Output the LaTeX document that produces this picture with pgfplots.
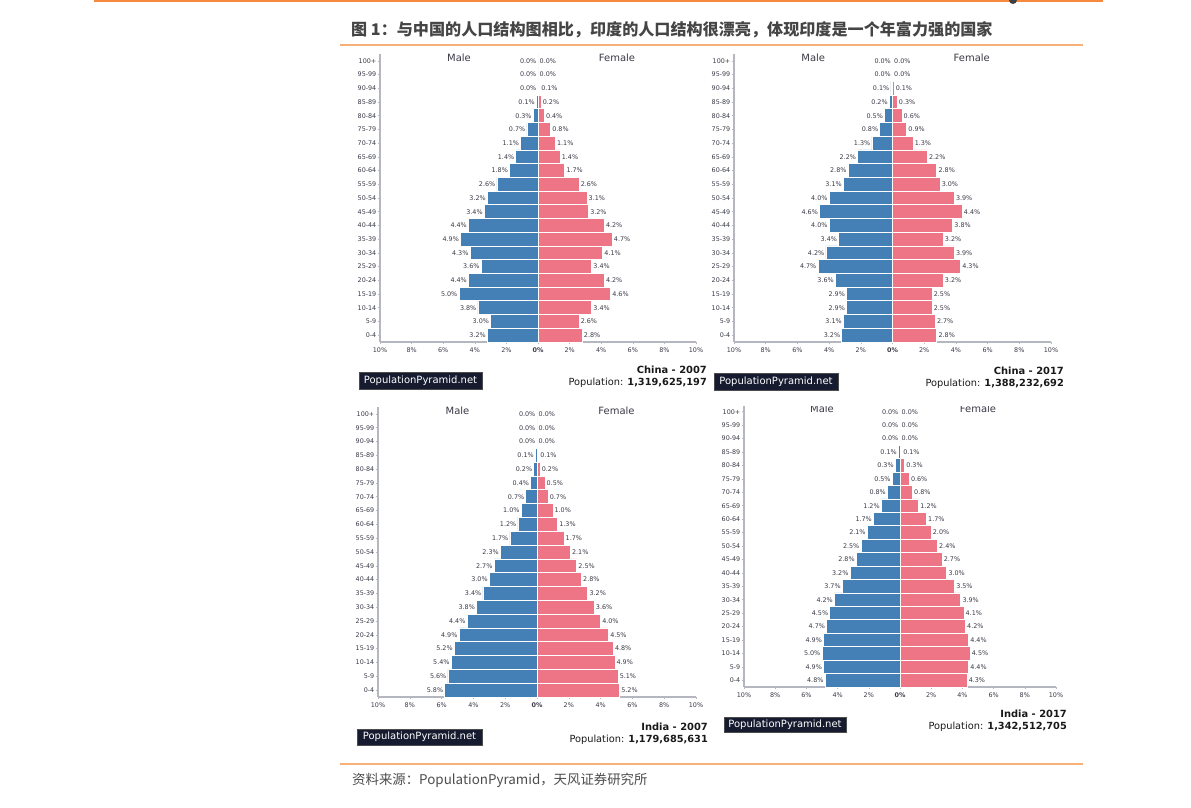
\documentclass[border=0pt]{standalone}
\usepackage{pgfplots}
\pgfplotsset{compat=1.18}
\usepackage{pgfplotstable}
\usepackage{fontspec}
\setmainfont{DejaVu Sans}
\newfontfamily\cjk{Noto Sans CJK SC}
\definecolor{malec}{HTML}{4480B6}
\definecolor{femc}{HTML}{EE7585}
\definecolor{axgray}{HTML}{B4B6C0}
\definecolor{txt}{HTML}{3A3A48}
\definecolor{navy}{HTML}{161B30}
\definecolor{orangeA}{HTML}{F58A3C}
\definecolor{orangeB}{HTML}{F7B07A}
\definecolor{ttl}{HTML}{454545}

% y: 0 = 0-4 ... 20 = 100+ ; m = male %, f = female %
\pgfplotstableread{
y m f
20 0.0 0.0
19 0.0 0.0
18 0.0 0.1
17 0.1 0.2
16 0.3 0.4
15 0.7 0.8
14 1.1 1.1
13 1.4 1.4
12 1.8 1.7
11 2.6 2.6
10 3.2 3.1
9 3.4 3.2
8 4.4 4.2
7 4.9 4.7
6 4.3 4.1
5 3.6 3.4
4 4.4 4.2
3 5.0 4.6
2 3.8 3.4
1 3.0 2.6
0 3.2 2.8
}\chinaA
\pgfplotstableread{
y m f
20 0.0 0.0
19 0.0 0.0
18 0.1 0.1
17 0.2 0.3
16 0.5 0.6
15 0.8 0.9
14 1.3 1.3
13 2.2 2.2
12 2.8 2.8
11 3.1 3.0
10 4.0 3.9
9 4.6 4.4
8 4.0 3.8
7 3.4 3.2
6 4.2 3.9
5 4.7 4.3
4 3.6 3.2
3 2.9 2.5
2 2.9 2.5
1 3.1 2.7
0 3.2 2.8
}\chinaB
\pgfplotstableread{
y m f
20 0.0 0.0
19 0.0 0.0
18 0.0 0.0
17 0.1 0.1
16 0.2 0.2
15 0.4 0.5
14 0.7 0.7
13 1.0 1.0
12 1.2 1.3
11 1.7 1.7
10 2.3 2.1
9 2.7 2.5
8 3.0 2.8
7 3.4 3.2
6 3.8 3.6
5 4.4 4.0
4 4.9 4.5
3 5.2 4.8
2 5.4 4.9
1 5.6 5.1
0 5.8 5.2
}\indiaA
\pgfplotstableread{
y m f
20 0.0 0.0
19 0.0 0.0
18 0.0 0.0
17 0.1 0.1
16 0.3 0.3
15 0.5 0.6
14 0.8 0.8
13 1.2 1.2
12 1.7 1.7
11 2.1 2.0
10 2.5 2.4
9 2.8 2.7
8 3.2 3.0
7 3.7 3.5
6 4.2 3.9
5 4.5 4.1
4 4.7 4.2
3 4.9 4.4
2 5.0 4.5
1 4.9 4.4
0 4.8 4.3
}\indiaB

\pgfplotsset{pyr/.style={
  scale only axis, anchor=south west,
  xmin=-10, xmax=10, ymin=-0.5, ymax=20.5,
  axis x line*=bottom, axis y line*=left,
  axis line style={draw=axgray, line width=1.5pt},
  xtick={-10,-8,...,10},
  xticklabels={10\%,8\%,6\%,4\%,2\%,\textbf{0\%},2\%,4\%,6\%,8\%,10\%},
  ytick={0,...,20},
  yticklabels={0-4,5-9,10-14,15-19,20-24,25-29,30-34,35-39,40-44,45-49,50-54,55-59,60-64,65-69,70-74,75-79,80-84,85-89,90-94,95-99,100+},
  tick align=outside, major tick length=2.5pt,
  tick style={draw=axgray, line width=0.6pt},
  ticklabel style={font=\fontsize{6.4}{7}\selectfont, text=txt},
  yticklabel style={inner sep=1pt},
  clip=false,
  point meta=explicit symbolic,
  every node near coord/.append style={font=\fontsize{6.4}{7}\selectfont, text=txt, inner sep=1.3pt},
}}

\newcommand{\pyramid}[5]{%
\begin{axis}[pyr, at={(#2pt,#3pt)}, width=#4pt, height=#5pt]
\addplot[xbar, bar shift=0pt, bar width=1, fill=malec, draw=white, line width=0.8pt,
  nodes near coords={\pgfplotspointmeta\%},
  every node near coord/.append style={anchor=east}]
  table[x expr=-\thisrow{m}, y=y, meta=m] {#1};
\addplot[xbar, bar shift=0pt, bar width=1, fill=femc, draw=white, line width=0.8pt,
  nodes near coords={\pgfplotspointmeta\%},
  every node near coord/.append style={anchor=west}]
  table[x=f, y=y, meta=f] {#1};
\node[font=\fontsize{10}{12}\selectfont, text=txt] at (axis cs:-5,20.2) {Male};
\node[font=\fontsize{10}{12}\selectfont, text=txt] at (axis cs:5,20.2) {Female};
\end{axis}}

\newcommand{\badge}[4]{%
  \path[fill=navy, draw=black!70] (#1pt,#2pt) rectangle (#3pt,#4pt);
  \node[text=white, font=\fontsize{10}{12}\selectfont, inner sep=0pt] at ({(#1+#3)/2*1pt},{(#2+#4)/2*1pt}) {PopulationPyramid.net};
}

\begin{document}
\begin{tikzpicture}
\path[use as bounding box] (0pt,0pt) rectangle (1191pt,808pt);
% top decorations
\draw[orangeA, line width=2.5pt] (94pt,807pt) -- (1103pt,807pt);
\fill[black!75] (1013pt,808pt) circle (4pt);
\node[anchor=west, font=\cjk\bfseries\fontsize{16.1}{18}\selectfont, text=ttl, inner sep=0pt] at (351pt,778pt)
  {图 1：与中国的人口结构图相比，印度的人口结构很漂亮，体现印度是一个年富力强的国家};
\draw[orangeB, line width=1.3pt] (340pt,763pt) -- (1083pt,763pt);
\draw[orangeB, line width=1.3pt] (340pt,44pt) -- (1083pt,44pt);
\node[anchor=west, font=\cjk\fontsize{13.4}{15}\selectfont, text=black!70, inner sep=0pt] at (352pt,28pt)
  {资料来源：PopulationPyramid，天风证券研究所};

% panels
\pyramid{\chinaA}{380}{466}{316}{288}
\pyramid{\chinaB}{734}{466}{317}{288}
\pyramid{\indiaA}{378}{111}{318}{290}
\pyramid{\indiaB}{744}{121}{312}{282}

% white band clipping top of last panel
\fill[white] (715pt,402pt) rectangle (1085pt,413pt);

% badges and captions
\badge{359}{419}{482}{436}
\badge{714}{418}{838}{435}
\badge{357}{63}{482}{79}
\badge{724}{76}{846}{91}

\begin{scope}[every node/.style={anchor=mid east, inner sep=0pt, text=black!90}]
\node[font=\bfseries\fontsize{9.9}{12}\selectfont] at (707pt,437pt) {China - 2007};
\node[font=\fontsize{9.8}{12}\selectfont] at (707pt,425pt) {Population: \textbf{1,319,625,197}};
\node[font=\bfseries\fontsize{9.9}{12}\selectfont] at (1064pt,436pt) {China - 2017};
\node[font=\fontsize{9.8}{12}\selectfont] at (1064pt,424pt) {Population: \textbf{1,388,232,692}};
\node[font=\bfseries\fontsize{9.9}{12}\selectfont] at (708pt,80pt) {India - 2007};
\node[font=\fontsize{9.8}{12}\selectfont] at (708pt,68pt) {Population: \textbf{1,179,685,631}};
\node[font=\bfseries\fontsize{9.9}{12}\selectfont] at (1067pt,93pt) {India - 2017};
\node[font=\fontsize{9.8}{12}\selectfont] at (1067pt,81pt) {Population: \textbf{1,342,512,705}};
\end{scope}
\end{tikzpicture}
\end{document}
